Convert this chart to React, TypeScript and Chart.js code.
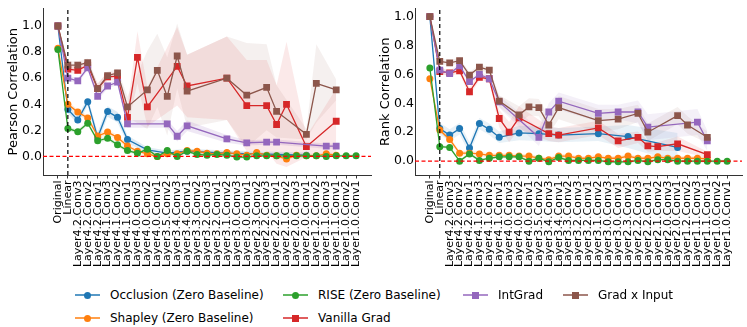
import React, { useEffect, useRef } from "react";
import { Chart, registerables } from "chart.js";

Chart.register(...registerables);
Chart.defaults.font.family = "DejaVu Sans";

const categories = [
  "Original", "Linear",
  "Layer4.2.Conv3", "Layer4.2.Conv2", "Layer4.2.Conv1",
  "Layer4.1.Conv3", "Layer4.1.Conv2", "Layer4.1.Conv1",
  "Layer4.0.Conv3", "Layer4.0.Conv2", "Layer4.0.Conv1",
  "Layer3.5.Conv2", "Layer3.4.Conv3", "Layer3.4.Conv1",
  "Layer3.3.Conv2", "Layer3.2.Conv3", "Layer3.2.Conv1",
  "Layer3.1.Conv2", "Layer3.0.Conv3", "Layer3.0.Conv1",
  "Layer2.3.Conv2", "Layer2.2.Conv3", "Layer2.2.Conv1",
  "Layer2.1.Conv2", "Layer2.0.Conv3", "Layer2.0.Conv1",
  "Layer1.2.Conv2", "Layer1.1.Conv3", "Layer1.1.Conv1",
  "Layer1.0.Conv2", "Layer1.0.Conv1",
];

const yTicks = [0, 0.2, 0.4, 0.6, 0.8, 1.0];

const N = null;

// ---------- Pearson correlation (left) ----------
const pearsonOcclusion = [1.0, 0.36, 0.28, 0.42, 0.145, 0.345, 0.30, 0.13, N, 0.05, N, 0.025, N, 0.04, N, N, N, 0.025, N, N, 0.02, N, N, N, N, 0.01, N, N, N, N, N];
const pearsonOcclusionStd = [0, 0.03, 0.03, 0.03, 0.04, 0.04, 0.04, 0.03, N, 0.02, N, 0.02, N, 0.02, N, N, N, 0.02, N, N, 0.02, N, N, N, N, 0.02, N, N, N, N, N];
const pearsonShapley = [0.83, 0.40, 0.34, 0.295, 0.157, 0.187, 0.145, 0.08, 0.04, 0.02, 0.0, 0.02, 0.02, 0.045, 0.04, 0.025, 0.02, 0.03, 0.02, 0.01, 0.03, 0.01, 0.005, -0.02, 0.01, 0.005, 0.005, 0.02, 0.01, N, N];
const pearsonShapleyStd = [0, 0.02, 0.02, 0.02, 0.02, 0.02, 0.02, 0.02, 0.015, 0.015, 0.015, 0.015, 0.015, 0.015, 0.015, 0.015, 0.015, 0.015, 0.015, 0.015, 0.015, 0.015, 0.015, 0.015, 0.015, 0.015, 0.015, 0.015, 0.015, N, N];
const pearsonRise = [0.82, 0.215, 0.19, 0.255, 0.12, 0.14, 0.09, 0.045, 0.025, 0.055, 0.0, 0.045, 0.0, 0.04, 0.015, 0.01, 0.015, 0.01, -0.005, -0.005, 0.005, 0.005, 0.005, 0.005, 0.005, 0.005, 0.005, 0.0, 0.005, 0.005, 0.005];
const pearsonRiseStd = [0, 0.015, 0.015, 0.015, 0.015, 0.015, 0.015, 0.015, 0.01, 0.01, 0.01, 0.01, 0.01, 0.01, 0.01, 0.01, 0.01, 0.01, 0.01, 0.01, 0.01, 0.01, 0.01, 0.01, 0.01, 0.01, 0.01, 0.01, 0.01, 0.01, 0.01];
const pearsonVanilla = [1.0, 0.67, 0.66, 0.70, 0.52, 0.61, 0.615, 0.30, 0.76, 0.38, N, N, 0.69, 0.54, N, N, N, 0.60, N, 0.39, N, 0.39, 0.245, 0.40, N, 0.075, N, N, 0.27, N, N];
const pearsonVanillaStd = [0, 0.03, 0.03, 0.03, 0.04, 0.03, 0.03, 0.08, 0.2, 0.15, N, N, 0.3, 0.24, N, N, N, 0.32, N, 0.35, N, 0.35, 0.3, 0.48, N, 0.08, N, N, 0.25, N, N];
const pearsonIntGrad = [1.0, 0.60, 0.58, 0.68, 0.46, 0.54, 0.57, 0.25, N, N, N, 0.25, 0.155, 0.235, N, N, N, 0.135, N, 0.105, N, 0.11, 0.11, N, N, N, N, 0.08, 0.08, N, N];
const pearsonIntGradStd = [0, 0.02, 0.02, 0.02, 0.03, 0.02, 0.02, 0.03, N, N, N, 0.03, 0.04, 0.04, N, N, N, 0.03, N, 0.02, N, 0.02, 0.02, N, N, N, N, 0.02, 0.02, N, N];
const pearsonGradInput = [1.0, 0.70, 0.70, 0.72, 0.52, 0.62, 0.64, 0.38, N, 0.51, 0.66, 0.46, 0.77, 0.50, N, N, N, 0.60, N, 0.47, N, 0.53, 0.345, N, N, 0.17, 0.56, N, 0.51, N, N];
const pearsonGradInputStd = [0, 0.03, 0.03, 0.03, 0.04, 0.03, 0.03, 0.08, N, 0.3, 0.28, 0.3, 0.25, 0.28, N, N, N, 0.32, N, 0.4, N, 0.33, 0.2, N, N, 0.04, 0.3, N, 0.08, N, N];

// ---------- Rank correlation (right) ----------
const rankOcclusion = [1.0, 0.225, 0.18, 0.225, 0.09, 0.26, 0.22, 0.165, N, 0.195, N, 0.19, N, 0.18, N, N, N, 0.19, N, N, 0.17, N, N, N, N, 0.095, N, N, N, N, N];
const rankOcclusionStd = [0, 0.04, 0.04, 0.04, 0.04, 0.04, 0.04, 0.04, N, 0.05, N, 0.05, N, 0.05, N, N, N, 0.05, N, N, 0.08, N, N, N, N, 0.1, N, N, N, N, N];
const rankShapley = [0.57, 0.215, 0.15, 0.055, 0.055, 0.05, 0.04, 0.04, 0.04, 0.035, 0.035, 0.02, 0.01, 0.035, 0.035, 0.02, 0.02, 0.03, 0.02, 0.02, 0.035, 0.02, 0.02, 0.03, 0.02, 0.02, 0.02, 0.02, 0.015, N, N];
const rankShapleyStd = [0, 0.015, 0.015, 0.015, 0.015, 0.015, 0.015, 0.015, 0.015, 0.015, 0.015, 0.015, 0.015, 0.015, 0.015, 0.015, 0.015, 0.015, 0.015, 0.015, 0.015, 0.015, 0.015, 0.015, 0.015, 0.015, 0.015, 0.015, 0.015, N, N];
const rankRise = [0.645, 0.10, 0.095, 0.0, 0.05, 0.005, 0.02, 0.03, 0.03, 0.03, 0.0, 0.02, -0.005, 0.025, 0.005, 0.005, 0.005, 0.005, -0.005, -0.005, -0.005, 0.005, -0.005, 0.01, 0.01, 0.0, 0.0, 0.0, 0.0, 0.0, 0.0];
const rankRiseStd = [0, 0.01, 0.01, 0.01, 0.01, 0.01, 0.01, 0.01, 0.01, 0.01, 0.01, 0.01, 0.01, 0.01, 0.01, 0.01, 0.01, 0.01, 0.01, 0.01, 0.01, 0.01, 0.01, 0.01, 0.01, 0.01, 0.01, 0.01, 0.01, 0.01, 0.01];
const rankVanilla = [1.0, 0.62, 0.61, 0.625, 0.48, 0.58, 0.57, 0.295, 0.20, 0.30, N, N, 0.19, 0.18, N, N, N, 0.23, N, 0.14, N, 0.165, 0.105, 0.10, N, 0.12, N, N, 0.045, N, N];
const rankVanillaStd = [0, 0.02, 0.02, 0.02, 0.03, 0.02, 0.02, 0.06, 0.07, 0.08, N, N, 0.05, 0.05, N, N, N, 0.05, N, 0.05, N, 0.04, 0.04, 0.03, N, 0.05, N, N, 0.02, N, N];
const rankIntGrad = [1.0, 0.63, 0.605, 0.66, 0.55, 0.60, 0.57, 0.41, N, N, N, 0.165, 0.34, 0.415, N, N, N, 0.33, N, 0.34, N, 0.34, 0.235, N, N, N, N, 0.27, 0.14, N, N];
const rankIntGradStd = [0, 0.02, 0.02, 0.02, 0.02, 0.02, 0.02, 0.04, N, N, N, 0.06, 0.06, 0.06, N, N, N, 0.06, N, 0.05, N, 0.08, 0.09, N, N, N, N, 0.09, 0.07, N, N];
const rankGradInput = [1.0, 0.69, 0.68, 0.695, 0.595, 0.65, 0.63, 0.415, N, 0.32, 0.375, 0.37, 0.25, 0.37, N, N, N, 0.28, N, 0.29, N, 0.33, 0.20, N, N, 0.315, 0.25, N, 0.165, N, N];
const rankGradInputStd = [0, 0.02, 0.02, 0.02, 0.02, 0.02, 0.02, 0.04, N, 0.06, 0.06, 0.06, 0.06, 0.08, N, N, N, 0.08, N, 0.07, N, 0.06, 0.06, N, N, 0.06, 0.06, N, 0.04, N, N];

const BLUE = "#1f77b4";
const ORANGE = "#ff7f0e";
const GREEN = "#2ca02c";
const RED = "#d62728";
const PURPLE = "#9467bd";
const BROWN = "#8c564b";

function rgba(hex: string, a: number) {
  const r = parseInt(hex.slice(1, 3), 16);
  const g = parseInt(hex.slice(3, 5), 16);
  const b = parseInt(hex.slice(5, 7), 16);
  return `rgba(${r},${g},${b},${a})`;
}

function pts(vals: (number | null)[]) {
  const out: { x: number; y: number }[] = [];
  vals.forEach((v, i) => {
    if (v !== null) out.push({ x: i, y: v });
  });
  return out;
}

function bandPts(vals: (number | null)[], std: (number | null)[], sign: number) {
  const out: { x: number; y: number }[] = [];
  vals.forEach((v, i) => {
    const s = std[i];
    if (v !== null && s !== null) out.push({ x: i, y: v + sign * s });
  });
  return out;
}

type Series = { vals: (number | null)[]; std: (number | null)[]; color: string; style: string; bandAlpha: number };

function buildDatasets(series: Series[], yMin: number, yMax: number) {
  const ds: any[] = [];
  series.forEach((s) => {
    ds.push({
      data: bandPts(s.vals, s.std, -1),
      borderWidth: 0,
      pointRadius: 0,
      fill: false,
      order: 50,
      borderColor: "rgba(0,0,0,0)",
    });
    ds.push({
      data: bandPts(s.vals, s.std, 1),
      borderWidth: 0,
      pointRadius: 0,
      fill: "-1",
      backgroundColor: rgba(s.color, s.bandAlpha),
      order: 50,
      borderColor: "rgba(0,0,0,0)",
    });
  });
  series.forEach((s, k) => {
    ds.push({
      data: pts(s.vals),
      borderColor: s.color,
      backgroundColor: s.color,
      borderWidth: 1.3,
      pointStyle: s.style,
      pointRadius: s.style === "rect" ? 4.8 : 3.5,
      pointBorderWidth: 0,
      pointBackgroundColor: s.color,
      fill: false,
      tension: 0,
      order: 20 - k,
    });
  });
  ds.push({
    data: [{ x: -1.5, y: 0 }, { x: 31.5, y: 0 }],
    borderColor: "#ff0000",
    borderDash: [4, 2.5],
    borderWidth: 1.2,
    pointRadius: 0,
    fill: false,
    order: 1,
  });
  ds.push({
    data: [{ x: 1, y: yMin }, { x: 1, y: yMax }],
    borderColor: "#000000",
    borderDash: [4, 3],
    borderWidth: 1.2,
    pointRadius: 0,
    fill: false,
    order: 1,
  });
  return ds;
}

type PanelProps = {
  left: number;
  width: number;
  padRight: number;
  title: string;
  yMin: number;
  yMax: number;
  series: Series[];
};

function Panel({ left, width, padRight, title, yMin, yMax, series }: PanelProps) {
  const ref = useRef<HTMLCanvasElement | null>(null);
  useEffect(() => {
    if (!ref.current) return;
    const chart = new Chart(ref.current, {
      type: "line",
      data: { datasets: buildDatasets(series, yMin, yMax) },
      options: {
        animation: false,
        responsive: false,
        devicePixelRatio: 1,
        layout: { padding: { left: 0, right: padRight, top: 4, bottom: 0 } },
        plugins: { legend: { display: false }, tooltip: { enabled: false } },
        scales: {
          x: {
            type: "linear",
            min: -1.5,
            max: 31.5,
            afterBuildTicks: (s: any) => {
              s.ticks = categories.map((_, i) => ({ value: i }));
            },
            afterFit: (s: any) => {
              s.height = 110;
            },
            ticks: {
              autoSkip: false,
              minRotation: 90,
              maxRotation: 90,
              padding: 2,
              color: "#000",
              font: { family: "DejaVu Sans", size: 11 },
              callback: (v: any) => categories[Math.round(Number(v))] ?? "",
            },
            grid: { display: true, drawOnChartArea: false, drawTicks: true, tickLength: 3.5, color: "#333", lineWidth: 1 },
            border: { display: true, color: "#333", width: 1 },
          },
          y: {
            type: "linear",
            min: yMin,
            max: yMax,
            afterBuildTicks: (s: any) => {
              s.ticks = yTicks.map((v) => ({ value: v }));
            },
            afterFit: (s: any) => {
              s.width = 43;
            },
            ticks: {
              padding: 1,
              color: "#000",
              font: { family: "DejaVu Sans", size: 12.5 },
              callback: (v: any) => Number(v).toFixed(1),
            },
            grid: { display: true, drawOnChartArea: false, drawTicks: false, color: "#333" },
            border: { display: true, color: "#333", width: 1 },
            title: {
              display: true,
              text: title,
              color: "#000",
              font: { family: "DejaVu Sans", size: 13 },
              padding: { top: 6, bottom: 0 },
            },
          },
        },
      } as any,
    });
    return () => chart.destroy();
  }, []);
  return (
    <canvas
      ref={ref}
      width={width}
      height={285}
      style={{ position: "absolute", left, top: 0, width, height: 285 }}
    />
  );
}

const pearsonSeries: Series[] = [
  { vals: pearsonOcclusion, std: pearsonOcclusionStd, color: BLUE, style: "circle", bandAlpha: 0.15 },
  { vals: pearsonShapley, std: pearsonShapleyStd, color: ORANGE, style: "circle", bandAlpha: 0.15 },
  { vals: pearsonRise, std: pearsonRiseStd, color: GREEN, style: "circle", bandAlpha: 0.15 },
  { vals: pearsonVanilla, std: pearsonVanillaStd, color: RED, style: "rect", bandAlpha: 0.1 },
  { vals: pearsonIntGrad, std: pearsonIntGradStd, color: PURPLE, style: "rect", bandAlpha: 0.15 },
  { vals: pearsonGradInput, std: pearsonGradInputStd, color: BROWN, style: "rect", bandAlpha: 0.09 },
];

const rankSeries: Series[] = [
  { vals: rankOcclusion, std: rankOcclusionStd, color: BLUE, style: "circle", bandAlpha: 0.1 },
  { vals: rankShapley, std: rankShapleyStd, color: ORANGE, style: "circle", bandAlpha: 0.15 },
  { vals: rankRise, std: rankRiseStd, color: GREEN, style: "circle", bandAlpha: 0.15 },
  { vals: rankVanilla, std: rankVanillaStd, color: RED, style: "rect", bandAlpha: 0.1 },
  { vals: rankIntGrad, std: rankIntGradStd, color: PURPLE, style: "rect", bandAlpha: 0.1 },
  { vals: rankGradInput, std: rankGradInputStd, color: BROWN, style: "rect", bandAlpha: 0.09 },
];

const legendItems = [
  { label: "Occlusion (Zero Baseline)", color: BLUE, marker: "circle", x: 75, y: 295 },
  { label: "Shapley (Zero Baseline)", color: ORANGE, marker: "circle", x: 75, y: 318 },
  { label: "RISE (Zero Baseline)", color: GREEN, marker: "circle", x: 283, y: 295 },
  { label: "Vanilla Grad", color: RED, marker: "rect", x: 283, y: 318 },
  { label: "IntGrad", color: PURPLE, marker: "rect", x: 463, y: 295 },
  { label: "Grad x Input", color: BROWN, marker: "rect", x: 563, y: 295 },
];

function Legend() {
  return (
    <>
      {legendItems.map((it) => (
        <div key={it.label}>
          <div
            style={{
              position: "absolute",
              left: it.x,
              top: it.y - 0.75,
              width: 25,
              height: 1.5,
              background: it.color,
              opacity: 0.75,
            }}
          />
          <div
            style={{
              position: "absolute",
              left: it.x + 12.5 - 3.5,
              top: it.y - 3.5,
              width: 7,
              height: 7,
              background: it.color,
              borderRadius: it.marker === "circle" ? "50%" : 0,
            }}
          />
          <div
            style={{
              position: "absolute",
              left: it.x + 35,
              top: it.y - 8,
              height: 16,
              lineHeight: "16px",
              fontFamily: "DejaVu Sans",
              fontSize: 12,
              color: "#000",
              whiteSpace: "nowrap",
            }}
          >
            {it.label}
          </div>
        </div>
      ))}
    </>
  );
}

export default function App() {
  return (
    <div style={{ position: "fixed", left: 0, top: 0, width: 747, height: 327, background: "#fff", overflow: "hidden" }}>
      <Panel left={0} width={378} padRight={7} title="Pearson Correlation" yMin={-0.142} yMax={1.134} series={pearsonSeries} />
      <Panel left={372} width={375} padRight={5} title="Rank Correlation" yMin={-0.096} yMax={1.056} series={rankSeries} />
      <Legend />
    </div>
  );
}
